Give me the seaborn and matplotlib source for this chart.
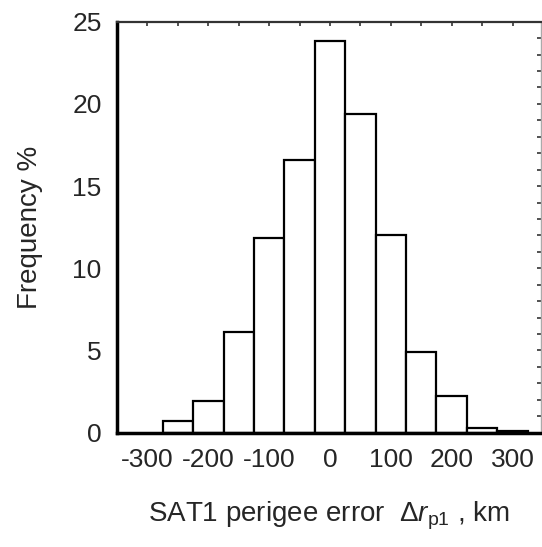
import matplotlib
matplotlib.use("Agg")
import matplotlib.pyplot as plt
from matplotlib.ticker import MultipleLocator
import seaborn as sns
import numpy as np
import pandas as pd

# Data
bin_centers = [-250, -200, -150, -100, -50, 0, 50, 100, 150, 200, 250, 300]
frequency_pct = [0.68, 1.95, 6.1, 11.85, 16.6, 23.85, 19.4, 12.0, 4.9, 2.25, 0.27, 0.08]
bin_edges = [-275, -225, -175, -125, -75, -25, 25, 75, 125, 175, 225, 275, 325]
xtick_values = [-300, -200, -100, 0, 100, 200, 300]
ytick_values = [0, 5, 10, 15, 20, 25]

sns.set_style("white")
plt.rcParams['font.family'] = ['Liberation Sans', 'DejaVu Sans']
plt.rcParams['mathtext.fontset'] = 'custom'
plt.rcParams['mathtext.rm'] = 'Liberation Sans'
plt.rcParams['mathtext.it'] = 'Liberation Sans:italic'
plt.rcParams['axes.unicode_minus'] = False

df = pd.DataFrame({"err": bin_centers, "freq": frequency_pct})

fig = plt.figure(figsize=(5.42, 5.47), dpi=100)
ax = fig.add_axes([0.2159, 0.209, 0.7814, 0.7514])

sns.histplot(data=df, x="err", weights="freq", bins=bin_edges, stat="count",
             color="white", edgecolor="black", linewidth=1.6, alpha=1, ax=ax)

ax.set_xlim(-350, 346)
ax.set_ylim(0, 25)
ax.set_xticks(xtick_values)
ax.set_yticks(ytick_values)
ax.xaxis.set_minor_locator(MultipleLocator(50))
ax.yaxis.set_minor_locator(MultipleLocator(1))

txtcol = '#262626'
ax.tick_params(axis='both', which='both', direction='in', top=True, right=True,
               length=3, width=1.2, colors='#333333', labelcolor=txtcol, labelsize=19)
ax.tick_params(axis='x', which='major', pad=11)
ax.tick_params(axis='y', which='major', pad=11)

for side in ['left', 'bottom']:
    ax.spines[side].set_linewidth(2.5)
    ax.spines[side].set_color('black')
ax.spines['top'].set_linewidth(1.6)
ax.spines['top'].set_color('#333333')
ax.spines['right'].set_linewidth(1.0)
ax.spines['right'].set_color('#aaaaaa')

ax.set_ylabel("Frequency %", fontsize=20, color=txtcol, labelpad=21)
ax.set_xlabel(r"SAT1 perigee error  $\mathit{\Delta r}_{\mathrm{p1}}$ , km", fontsize=20,
              color=txtcol, labelpad=20)

fig.savefig("out.png", dpi=100)
